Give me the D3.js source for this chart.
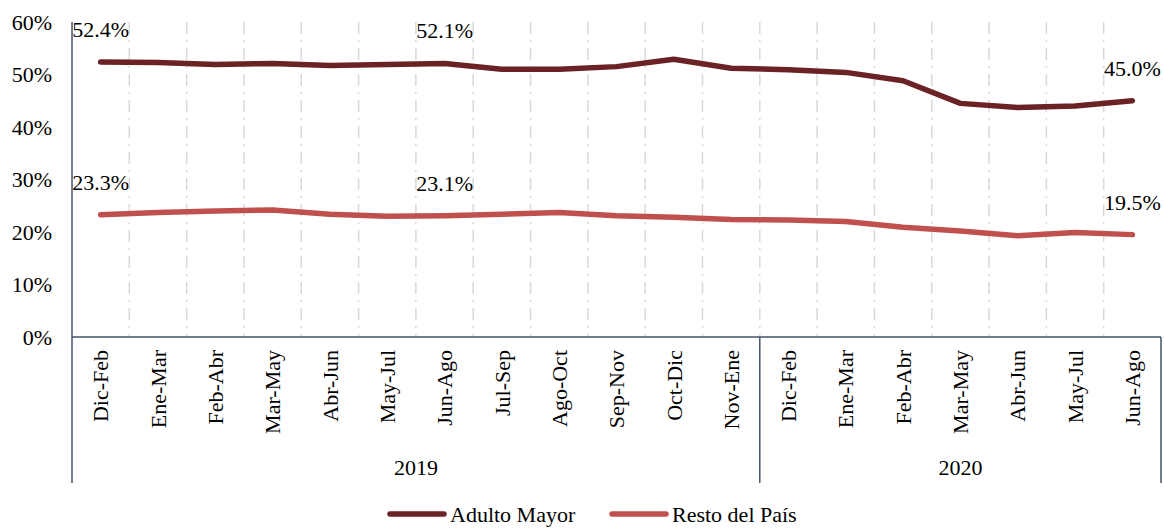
<!DOCTYPE html>
<html>
<head>
<meta charset="utf-8">
<script src="https://cdn.jsdelivr.net/npm/d3@7"></script>
<style>
  html, body { margin: 0; padding: 0; background: #fff; }
</style>
</head>
<body>
<svg id="chart" width="1164" height="528"></svg>
<script>
const categories = ["Dic-Feb","Ene-Mar","Feb-Abr","Mar-May","Abr-Jun","May-Jul","Jun-Ago","Jul-Sep","Ago-Oct","Sep-Nov","Oct-Dic","Nov-Ene",
                    "Dic-Feb","Ene-Mar","Feb-Abr","Mar-May","Abr-Jun","May-Jul","Jun-Ago"];
const years = ["2019","2020"];
const yearCounts = [12, 7];
const adultoMayor = [52.4,52.3,51.9,52.1,51.7,51.9,52.1,51.0,51.0,51.5,52.9,51.2,50.9,50.4,48.8,44.5,43.7,44.0,45.0];
const restoPais   = [23.3,23.7,24.0,24.2,23.4,23.0,23.1,23.4,23.7,23.1,22.8,22.4,22.3,22.0,20.9,20.2,19.3,19.9,19.5];
const yTicks = [0,10,20,30,40,50,60];
const seriesNames = ["Adulto Mayor","Resto del País"];
const labelIdx = [0, 6, 18];

(function(){
const colors = ["#6b2224", "#c0504d"];
const axisColor = "#44546a";
const fs = 22;
const ff = "'Liberation Serif', 'DejaVu Serif', serif";

const svg = d3.select("#chart");
const pLeft = 72, pRight = 1161, pTop = 22, pBottom = 337, groupBottom = 483;

const keys = categories.map((c,i)=>i);
const x = d3.scaleBand().domain(keys).range([pLeft, pRight]).padding(0);
const y = d3.scaleLinear().domain([0,60]).range([pBottom, pTop]);
const cx = i => x(i) + x.bandwidth()/2;

const styleText = sel => sel.style("font-family", ff).style("font-size", fs + "px").attr("fill", "#000");

// vertical gridlines at band boundaries
const grid = svg.append("g");
keys.slice(1).forEach(i => {
  grid.append("line")
    .attr("x1", x(i)).attr("x2", x(i))
    .attr("y1", pTop).attr("y2", pBottom)
    .attr("stroke", "#d9d9d9").attr("stroke-width", 1.5)
    .attr("stroke-dasharray", "12,6,2,6");
});

// y axis
const yAxis = svg.append("g").attr("transform", `translate(${pLeft},0)`)
  .call(d3.axisLeft(y).tickValues(yTicks).tickFormat(d => d + "%").tickSize(0).tickPadding(20));
yAxis.select(".domain").remove();
yAxis.attr("font-family", null).attr("font-size", null);
styleText(yAxis.selectAll("text"));

// axis lines
svg.append("line").attr("x1", pLeft).attr("x2", pLeft).attr("y1", pTop).attr("y2", groupBottom)
  .attr("stroke", axisColor).attr("stroke-width", 1.5);
svg.append("line").attr("x1", pLeft).attr("x2", pRight).attr("y1", pBottom).attr("y2", pBottom)
  .attr("stroke", axisColor).attr("stroke-width", 1.5);

// x axis category labels
const xAxis = svg.append("g").attr("transform", `translate(0,${pBottom})`)
  .call(d3.axisBottom(x).tickFormat(i => categories[i]).tickSize(0));
xAxis.select(".domain").remove();
xAxis.attr("font-family", null).attr("font-size", null);
styleText(xAxis.selectAll("text"))
  .attr("text-anchor", "end")
  .attr("transform", "rotate(-90)")
  .attr("x", -13).attr("y", 0).attr("dy", "0.35em");

// year groups
let start = 0;
years.forEach((yr, gi) => {
  const end = start + yearCounts[gi];
  const x0 = x(start), x1 = x(end - 1) + x.bandwidth();
  svg.append("line").attr("x1", x1).attr("x2", x1).attr("y1", pBottom).attr("y2", groupBottom)
    .attr("stroke", axisColor).attr("stroke-width", 1.5);
  styleText(svg.append("text").attr("x", (x0 + x1)/2).attr("y", 475)
    .attr("text-anchor", "middle")).text(yr);
  start = end;
});

// lines
const line = d3.line().x((d,i) => cx(i)).y(d => y(d)).curve(d3.curveLinear);
[adultoMayor, restoPais].forEach((s, si) => {
  svg.append("path").datum(s).attr("d", line)
    .attr("fill", "none").attr("stroke", colors[si]).attr("stroke-width", 5.5)
    .attr("stroke-linecap", "round").attr("stroke-linejoin", "round");
  labelIdx.forEach(i => {
    styleText(svg.append("text").attr("x", cx(i)).attr("y", y(s[i]) - 25)
      .attr("text-anchor", "middle"))
      .text(s[i].toFixed(1) + "%");
  });
});

// legend
const legendX = [390, 612];
seriesNames.forEach((n, si) => {
  const g = svg.append("g").attr("transform", `translate(${legendX[si]},514)`);
  g.append("line").attr("x1", 0).attr("x2", 54).attr("y1", 0).attr("y2", 0)
    .attr("stroke", colors[si]).attr("stroke-width", 5.5).attr("stroke-linecap", "round");
  styleText(g.append("text").attr("x", 60).attr("y", 0).attr("dy", "0.35em")).text(n);
});
})();
</script>
</body>
</html>
